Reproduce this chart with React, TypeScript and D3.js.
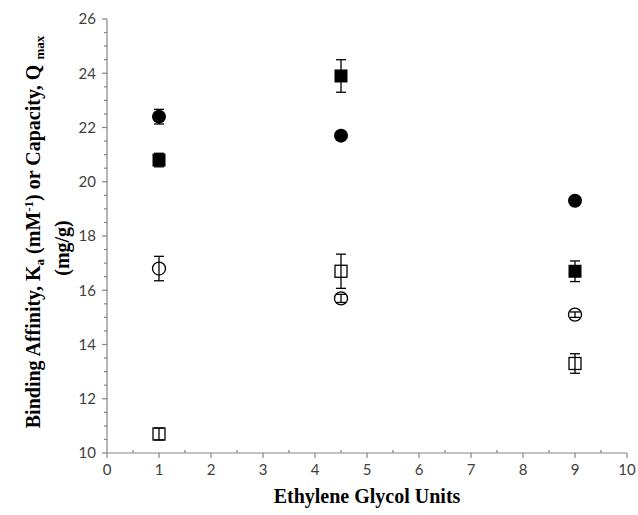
import React from "react";
import * as d3 from "d3";

// Ethylene glycol spacer lengths
const glycolUnits = [1, 4.5, 9];

// Series values and their standard deviations
const filledCircleValues = [22.4, 21.7, 19.3];
const filledCircleErrors = [0.27, 0.15, 0.15];
const filledSquareValues = [20.8, 23.9, 16.7];
const filledSquareErrors = [0.25, 0.6, 0.38];
const openCircleValues = [16.8, 15.7, 15.1];
const openCircleErrors = [0.45, 0.15, 0.1];
const openSquareValues = [10.7, 16.7, 13.3];
const openSquareErrors = [0.22, 0.63, 0.36];

const xTickValues = [0, 1, 2, 3, 4, 5, 6, 7, 8, 9, 10];
const yTickValues = [10, 12, 14, 16, 18, 20, 22, 24, 26];

const W = 638;
const H = 515;
const left = 107;
const right = 627;
const top = 19;
const bottom = 453;

type Series = {
  key: string;
  values: number[];
  errors: number[];
  shape: "circle" | "square";
  filled: boolean;
};

const series: Series[] = [
  { key: "fc", values: filledCircleValues, errors: filledCircleErrors, shape: "circle", filled: true },
  { key: "fs", values: filledSquareValues, errors: filledSquareErrors, shape: "square", filled: true },
  { key: "oc", values: openCircleValues, errors: openCircleErrors, shape: "circle", filled: false },
  { key: "os", values: openSquareValues, errors: openSquareErrors, shape: "square", filled: false },
];

const titleFont = "'Liberation Serif', 'Times New Roman', serif";
const tickFont = "Lato, 'Open Sans', sans-serif";

export default function App() {
  const x = d3.scaleLinear().domain([0, 10]).range([left, right]);
  const y = d3.scaleLinear().domain([10, 26]).range([bottom, top]);
  const axisColor = "#868686";
  const labelColor = "#404040";
  const xMinor = d3.range(0.5, 10, 1);
  const yMinor = d3.range(10.5, 26, 0.5).filter((v) => Math.abs(v % 2) > 1e-6);

  return (
    <svg width={W} height={H} style={{ position: "absolute", left: 0, top: 0, background: "#fff" }}>
      {/* axes */}
      <line x1={left} x2={right} y1={bottom} y2={bottom} stroke={axisColor} strokeWidth={1.2} />
      <line x1={left} x2={left} y1={top} y2={bottom} stroke={axisColor} strokeWidth={1.2} />
      {xTickValues.map((v) => (
        <g key={"xt" + v}>
          <line x1={x(v)} x2={x(v)} y1={bottom} y2={bottom + 5} stroke={axisColor} strokeWidth={1.2} />
          <text x={x(v)} y={bottom + 22} textAnchor="middle" fontFamily={tickFont} fontSize={15} fill={labelColor}>
            {v}
          </text>
        </g>
      ))}
      {xMinor.map((v) => (
        <line key={"xm" + v} x1={x(v)} x2={x(v)} y1={bottom} y2={bottom - 3} stroke={axisColor} strokeWidth={1.2} />
      ))}
      {yTickValues.map((v) => (
        <g key={"yt" + v}>
          <line x1={left - 5} x2={left} y1={y(v)} y2={y(v)} stroke={axisColor} strokeWidth={1.2} />
          <text x={left - 11} y={y(v)} dy="0.35em" textAnchor="end" fontFamily={tickFont} fontSize={15} fill={labelColor}>
            {v}
          </text>
        </g>
      ))}
      {yMinor.map((v) => (
        <line key={"ym" + v} x1={left - 3} x2={left} y1={y(v)} y2={y(v)} stroke={axisColor} strokeWidth={1.2} />
      ))}

      {/* data: error bars then markers */}
      {series.map((s) => (
        <g key={s.key}>
          {s.values.map((v, i) => {
            const cx = x(glycolUnits[i]);
            const cy = y(v);
            const y1 = y(v + s.errors[i]);
            const y2 = y(v - s.errors[i]);
            const cap = 5;
            return (
              <g key={i}>
                <line x1={cx} x2={cx} y1={y1} y2={y2} stroke="#000" strokeWidth={1.3} />
                <line x1={cx - cap} x2={cx + cap} y1={y1} y2={y1} stroke="#000" strokeWidth={1.3} />
                <line x1={cx - cap} x2={cx + cap} y1={y2} y2={y2} stroke="#000" strokeWidth={1.3} />
                {s.shape === "circle" ? (
                  <circle
                    cx={cx}
                    cy={cy}
                    r={s.filled ? 7 : 6.5}
                    fill={s.filled ? "#000" : "none"}
                    stroke="#000"
                    strokeWidth={s.filled ? 0 : 1.3}
                  />
                ) : (
                  <rect
                    x={cx - (s.filled ? 6.5 : 6)}
                    y={cy - (s.filled ? 6.5 : 6)}
                    width={s.filled ? 13 : 12}
                    height={s.filled ? 13 : 12}
                    fill={s.filled ? "#000" : "none"}
                    stroke="#000"
                    strokeWidth={s.filled ? 0 : 1.3}
                  />
                )}
              </g>
            );
          })}
        </g>
      ))}

      {/* axis titles */}
      <text
        x={(left + right) / 2}
        y={503}
        textAnchor="middle"
        fontFamily={titleFont}
        fontWeight="bold"
        fontSize={20}
        fill="#000"
      >
        Ethylene Glycol Units
      </text>
      <g transform={`translate(40, 232) rotate(-90)`}>
        <text textAnchor="middle" fontFamily={titleFont} fontWeight="bold" fontSize={20} fill="#000">
          Binding Affinity, K
          <tspan fontSize={13} dy={4}>a</tspan>
          <tspan dy={-4}> (mM</tspan>
          <tspan fontSize={13} dy={-7}>-1</tspan>
          <tspan dy={7}>) or Capacity, Q </tspan>
          <tspan fontSize={13} dy={4}>max</tspan>
        </text>
        <text y={29} x={-16} textAnchor="middle" fontFamily={titleFont} fontWeight="bold" fontSize={20} fill="#000">
          (mg/g)
        </text>
      </g>
    </svg>
  );
}
